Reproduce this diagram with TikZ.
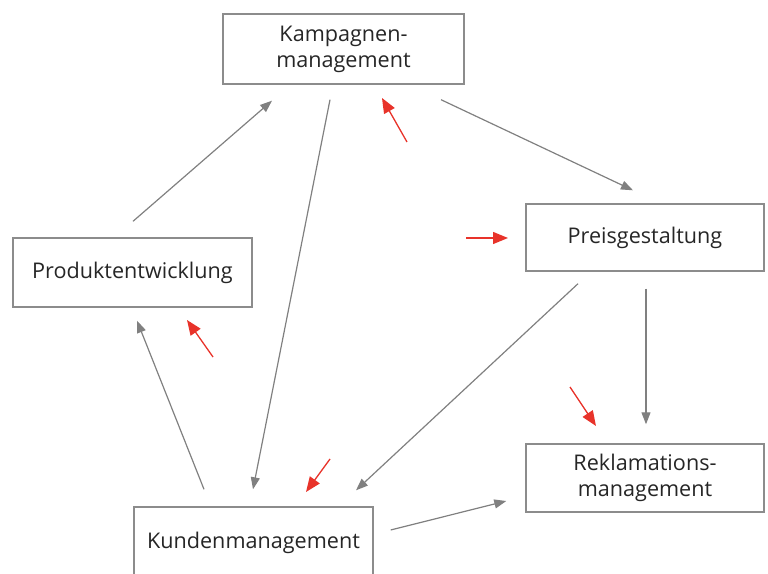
\documentclass[tikz,border=0pt]{standalone}
\usepackage{fontspec}
\setmainfont{Open Sans}
\usetikzlibrary{arrows.meta,calc}
\definecolor{boxgray}{HTML}{8C8C8C}
\definecolor{arrgray}{HTML}{808080}
\definecolor{arrred}{HTML}{E8332A}
\begin{document}
\begin{tikzpicture}[x=1pt,y=1pt,
  box/.style={draw=boxgray,line width=1.4pt,rectangle,inner sep=0pt,align=center,
    text=black!85,font=\fontsize{21.6}{26}\selectfont},
  garr/.style={draw=arrgray,line width=1.2pt,-{Triangle[length=12pt,width=9pt]}},
  rarr/.style={draw=arrred,line width=1.3pt,-{Triangle[length=15pt,width=12pt]}}]
\clip (0,0) rectangle (768,573);
\useasboundingbox (0,0) rectangle (768,573);
\node[box,minimum width=241pt,minimum height=70pt] (kamp) at (343.5,524) {Kampagnen-\\management};
\node[box,minimum width=238pt,minimum height=67pt] (preis) at (645,335.5) {Preisgestaltung};
\node[box,minimum width=239pt,minimum height=69pt] (prod) at (132.5,300.5) {Produktentwicklung};
\node[box,minimum width=238pt,minimum height=68pt] (rekl) at (645,95) {Reklamations-\\management};
\node[box,minimum width=239pt,minimum height=72pt] (kund) at (253.5,30) {Kundenmanagement};
% gray connectors
\draw[garr] ($(prod.north)+(0.5,16)$) -- ($(kamp.south)+(-71.5,-16)$);
\draw[garr] ($(kamp.south)+(-13.5,-15)$) -- ($(kund.north)+(-0.5,17)$);
\draw[garr] ($(kamp.south)+(97.5,-15)$) -- ($(preis.north)+(-12,13)$);
\draw[garr] ($(preis.south)+(-67,-12)$) -- ($(kund.north)+(102.5,16)$);
\draw[garr] ($(preis.south)+(1,-17)$) -- ($(rekl.north)+(1,19)$);
\draw[garr] ($(kund.north)+(-49.5,17)$) -- ($(prod.south)+(4.5,-13)$);
\draw[garr] ($(kund.east)+(17,13)$) -- ($(rekl.west)+(-19,-23)$);
% red arrows
\draw[rarr] (407,431) -- (382,475);
\draw[rarr] (466,335) -- (508,335);
\draw[rarr] (213,216) -- (187,253);
\draw[rarr] (330,114) -- (306,81);
\draw[rarr] (570,186) -- (596,147);
\end{tikzpicture}
\end{document}
